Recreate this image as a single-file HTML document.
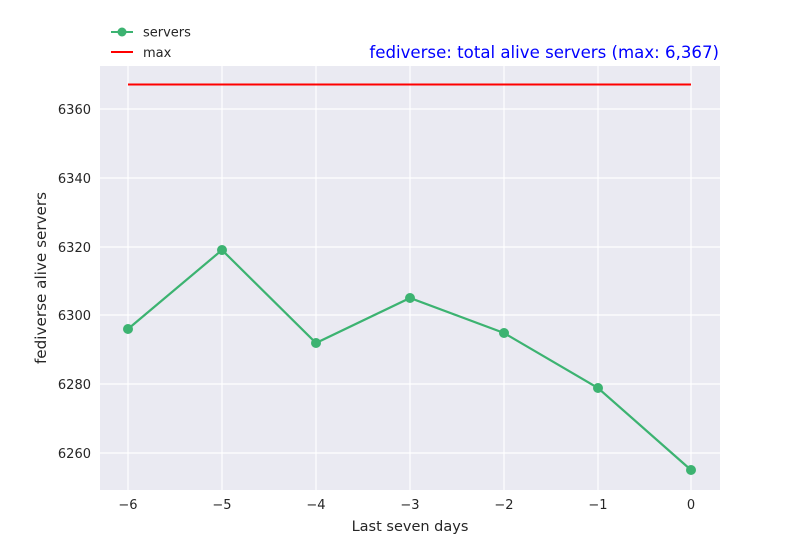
<!DOCTYPE html>
<html><head><meta charset="utf-8"><style>
body{margin:0;background:#fff;}
svg{display:block;font-family:"DejaVu Sans","Liberation Sans",sans-serif;}
</style></head><body>
<svg width="800" height="550" viewBox="0 0 800 550">
<rect x="100" y="66" width="620" height="424" fill="#eaeaf2"/>
<g stroke="#fff" stroke-width="1.2">
<line x1="128" y1="66" x2="128" y2="490"/><line x1="222" y1="66" x2="222" y2="490"/>
<line x1="316" y1="66" x2="316" y2="490"/><line x1="410" y1="66" x2="410" y2="490"/>
<line x1="504" y1="66" x2="504" y2="490"/><line x1="598" y1="66" x2="598" y2="490"/>
<line x1="691" y1="66" x2="691" y2="490"/>
<line x1="100" y1="109" x2="720" y2="109"/><line x1="100" y1="178" x2="720" y2="178"/>
<line x1="100" y1="247" x2="720" y2="247"/><line x1="100" y1="315" x2="720" y2="315"/>
<line x1="100" y1="384" x2="720" y2="384"/><line x1="100" y1="453" x2="720" y2="453"/>
</g>
<line x1="128" y1="84.5" x2="691" y2="84.5" stroke="#ff0000" stroke-width="2"/>
<polyline fill="none" stroke="#3cb371" stroke-width="2.2" points="128,329 222,250 316,343 410,298 504,333 598,388 691,470"/>
<g fill="#3cb371">
<circle cx="128" cy="329" r="5"/><circle cx="222" cy="250" r="5"/><circle cx="316" cy="343" r="5"/>
<circle cx="410" cy="298" r="5"/><circle cx="504" cy="333" r="5"/><circle cx="598" cy="388" r="5"/><circle cx="691" cy="470" r="5"/>
</g>
<g font-size="13" fill="#262626" text-anchor="end">
<text x="91" y="114">6360</text><text x="91" y="183">6340</text><text x="91" y="252">6320</text>
<text x="91" y="320">6300</text><text x="91" y="389">6280</text><text x="91" y="458">6260</text>
</g>
<g font-size="13" fill="#262626" text-anchor="middle">
<text x="128" y="509">−6</text><text x="222" y="509">−5</text><text x="316" y="509">−4</text>
<text x="410" y="509">−3</text><text x="504" y="509">−2</text><text x="598" y="509">−1</text><text x="691" y="509">0</text>
</g>
<text x="410" y="531" font-size="14.5" fill="#262626" text-anchor="middle">Last seven days</text>
<text transform="translate(46,278) rotate(-90)" font-size="15.2" fill="#262626" text-anchor="middle">fediverse alive servers</text>
<text x="719" y="58" font-size="16.6" fill="#0000ff" text-anchor="end">fediverse: total alive servers (max: 6,367)</text>
<line x1="111" y1="32" x2="133" y2="32" stroke="#3cb371" stroke-width="2"/>
<circle cx="122" cy="32" r="4.5" fill="#3cb371"/>
<text x="143" y="36.5" font-size="13" fill="#262626">servers</text>
<line x1="111" y1="52" x2="133" y2="52" stroke="#ff0000" stroke-width="2"/>
<text x="143" y="57" font-size="13" fill="#262626">max</text>
</svg>
</body></html>
